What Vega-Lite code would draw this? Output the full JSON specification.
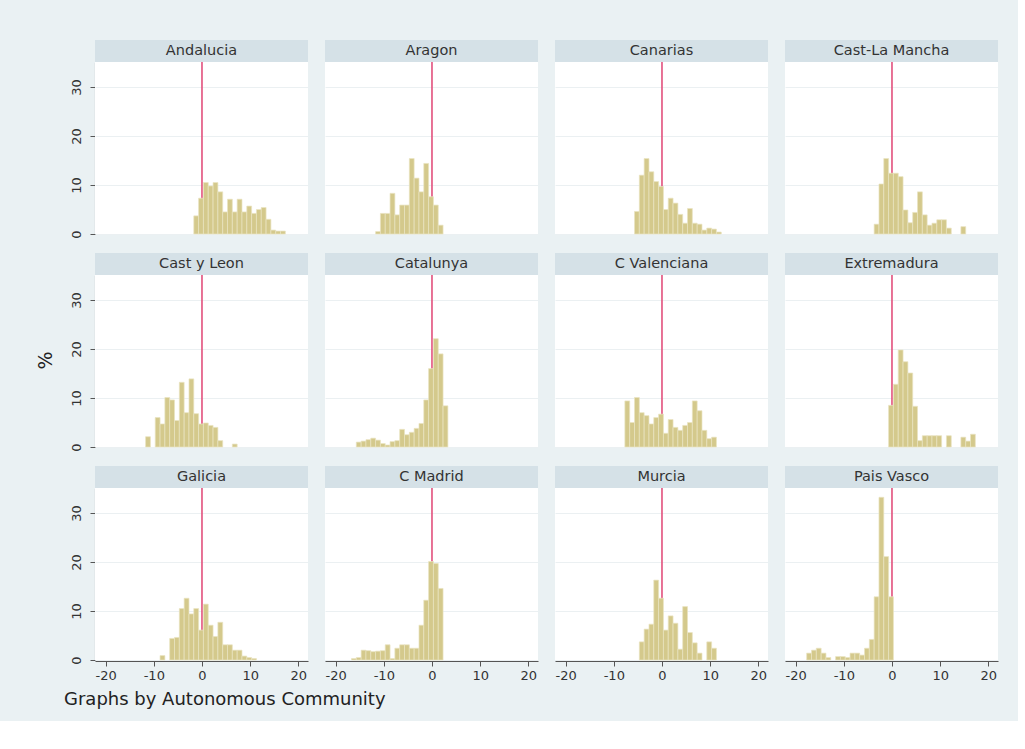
{
  "$schema": "https://vega.github.io/schema/vega-lite/v6.json",
  "background": "#EAF1F3",
  "padding": {"left": 37, "top": 38, "right": 20, "bottom": 12},
  "title": {"text": "Graphs by Autonomous Community", "orient": "bottom", "anchor": "start", "fontSize": 18, "fontWeight": "normal", "color": "#222", "font": "DejaVu Sans", "offset": 9, "dx": 27},
  "config": {
    "font": "DejaVu Sans",
    "view": {"fill": "white", "stroke": null},
    "axis": {"labelFont": "DejaVu Sans", "labelFontSize": 13, "labelColor": "#333", "domain": true, "domainColor": "#555", "domainWidth": 1.1, "tickColor": "#555", "tickSize": 5, "gridColor": "#EBF0F2"}
  },
  "data": {"values": [
    {"region":"Andalucia","x0":-1.7,"x1":-0.7,"pct":3.7},
    {"region":"Andalucia","x0":-0.7,"x1":0.3,"pct":7.3},
    {"region":"Andalucia","x0":0.3,"x1":1.3,"pct":10.5},
    {"region":"Andalucia","x0":1.3,"x1":2.3,"pct":9.8},
    {"region":"Andalucia","x0":2.3,"x1":3.3,"pct":10.5},
    {"region":"Andalucia","x0":3.3,"x1":4.3,"pct":8.6},
    {"region":"Andalucia","x0":4.3,"x1":5.3,"pct":4.5},
    {"region":"Andalucia","x0":5.3,"x1":6.3,"pct":7.1},
    {"region":"Andalucia","x0":6.3,"x1":7.3,"pct":4.5},
    {"region":"Andalucia","x0":7.3,"x1":8.3,"pct":7.1},
    {"region":"Andalucia","x0":8.3,"x1":9.3,"pct":4.5},
    {"region":"Andalucia","x0":9.3,"x1":10.3,"pct":5.7},
    {"region":"Andalucia","x0":10.3,"x1":11.3,"pct":4.2},
    {"region":"Andalucia","x0":11.3,"x1":12.3,"pct":5.0},
    {"region":"Andalucia","x0":12.3,"x1":13.3,"pct":5.4},
    {"region":"Andalucia","x0":13.3,"x1":14.3,"pct":3.0},
    {"region":"Andalucia","x0":14.3,"x1":15.3,"pct":0.8},
    {"region":"Andalucia","x0":15.3,"x1":16.3,"pct":0.6},
    {"region":"Andalucia","x0":16.3,"x1":17.3,"pct":0.6},
    {"region":"Aragon","x0":-11.7,"x1":-10.7,"pct":0.5},
    {"region":"Aragon","x0":-10.7,"x1":-9.7,"pct":4.2},
    {"region":"Aragon","x0":-9.7,"x1":-8.7,"pct":4.2},
    {"region":"Aragon","x0":-8.7,"x1":-7.7,"pct":8.3},
    {"region":"Aragon","x0":-7.7,"x1":-6.7,"pct":3.9},
    {"region":"Aragon","x0":-6.7,"x1":-5.7,"pct":5.9},
    {"region":"Aragon","x0":-5.7,"x1":-4.7,"pct":5.9},
    {"region":"Aragon","x0":-4.7,"x1":-3.7,"pct":15.4},
    {"region":"Aragon","x0":-3.7,"x1":-2.7,"pct":11.4},
    {"region":"Aragon","x0":-2.7,"x1":-1.7,"pct":8.6},
    {"region":"Aragon","x0":-1.7,"x1":-0.7,"pct":14.4},
    {"region":"Aragon","x0":-0.7,"x1":0.3,"pct":7.6},
    {"region":"Aragon","x0":0.3,"x1":1.3,"pct":5.9},
    {"region":"Aragon","x0":1.3,"x1":2.3,"pct":1.8},
    {"region":"Canarias","x0":-5.7,"x1":-4.7,"pct":4.6},
    {"region":"Canarias","x0":-4.7,"x1":-3.7,"pct":12.0},
    {"region":"Canarias","x0":-3.7,"x1":-2.7,"pct":15.4},
    {"region":"Canarias","x0":-2.7,"x1":-1.7,"pct":12.7},
    {"region":"Canarias","x0":-1.7,"x1":-0.7,"pct":10.7},
    {"region":"Canarias","x0":-0.7,"x1":0.3,"pct":9.7},
    {"region":"Canarias","x0":0.3,"x1":1.3,"pct":5.0},
    {"region":"Canarias","x0":1.3,"x1":2.3,"pct":7.3},
    {"region":"Canarias","x0":2.3,"x1":3.3,"pct":6.3},
    {"region":"Canarias","x0":3.3,"x1":4.3,"pct":4.0},
    {"region":"Canarias","x0":4.3,"x1":5.3,"pct":2.2},
    {"region":"Canarias","x0":5.3,"x1":6.3,"pct":5.2},
    {"region":"Canarias","x0":6.3,"x1":7.3,"pct":2.2},
    {"region":"Canarias","x0":7.3,"x1":8.3,"pct":2.0},
    {"region":"Canarias","x0":8.3,"x1":9.3,"pct":0.8},
    {"region":"Canarias","x0":9.3,"x1":10.3,"pct":1.2},
    {"region":"Canarias","x0":10.3,"x1":11.3,"pct":1.0},
    {"region":"Canarias","x0":11.3,"x1":12.3,"pct":0.4},
    {"region":"Cast-La Mancha","x0":-3.7,"x1":-2.7,"pct":2.0},
    {"region":"Cast-La Mancha","x0":-2.7,"x1":-1.7,"pct":10.2},
    {"region":"Cast-La Mancha","x0":-1.7,"x1":-0.7,"pct":15.4},
    {"region":"Cast-La Mancha","x0":-0.7,"x1":0.3,"pct":12.4},
    {"region":"Cast-La Mancha","x0":0.3,"x1":1.3,"pct":12.4},
    {"region":"Cast-La Mancha","x0":1.3,"x1":2.3,"pct":11.7},
    {"region":"Cast-La Mancha","x0":2.3,"x1":3.3,"pct":4.9},
    {"region":"Cast-La Mancha","x0":3.3,"x1":4.3,"pct":2.3},
    {"region":"Cast-La Mancha","x0":4.3,"x1":5.3,"pct":4.4},
    {"region":"Cast-La Mancha","x0":5.3,"x1":6.3,"pct":8.6},
    {"region":"Cast-La Mancha","x0":6.3,"x1":7.3,"pct":3.9},
    {"region":"Cast-La Mancha","x0":7.3,"x1":8.3,"pct":1.8},
    {"region":"Cast-La Mancha","x0":8.3,"x1":9.3,"pct":2.2},
    {"region":"Cast-La Mancha","x0":9.3,"x1":10.3,"pct":2.9},
    {"region":"Cast-La Mancha","x0":10.3,"x1":11.3,"pct":2.9},
    {"region":"Cast-La Mancha","x0":11.3,"x1":12.3,"pct":1.2},
    {"region":"Cast-La Mancha","x0":14.3,"x1":15.3,"pct":1.5},
    {"region":"Cast y Leon","x0":-11.7,"x1":-10.7,"pct":2.1},
    {"region":"Cast y Leon","x0":-9.7,"x1":-8.7,"pct":6.0},
    {"region":"Cast y Leon","x0":-8.7,"x1":-7.7,"pct":4.7},
    {"region":"Cast y Leon","x0":-7.7,"x1":-6.7,"pct":10.1},
    {"region":"Cast y Leon","x0":-6.7,"x1":-5.7,"pct":9.6},
    {"region":"Cast y Leon","x0":-5.7,"x1":-4.7,"pct":5.4},
    {"region":"Cast y Leon","x0":-4.7,"x1":-3.7,"pct":13.2},
    {"region":"Cast y Leon","x0":-3.7,"x1":-2.7,"pct":7.0},
    {"region":"Cast y Leon","x0":-2.7,"x1":-1.7,"pct":13.9},
    {"region":"Cast y Leon","x0":-1.7,"x1":-0.7,"pct":6.8},
    {"region":"Cast y Leon","x0":-0.7,"x1":0.3,"pct":4.7},
    {"region":"Cast y Leon","x0":0.3,"x1":1.3,"pct":4.9},
    {"region":"Cast y Leon","x0":1.3,"x1":2.3,"pct":4.4},
    {"region":"Cast y Leon","x0":2.3,"x1":3.3,"pct":4.0},
    {"region":"Cast y Leon","x0":3.3,"x1":4.3,"pct":1.3},
    {"region":"Cast y Leon","x0":6.3,"x1":7.3,"pct":0.6},
    {"region":"Catalunya","x0":-15.7,"x1":-14.7,"pct":1.0},
    {"region":"Catalunya","x0":-14.7,"x1":-13.7,"pct":1.2},
    {"region":"Catalunya","x0":-13.7,"x1":-12.7,"pct":1.5},
    {"region":"Catalunya","x0":-12.7,"x1":-11.7,"pct":1.8},
    {"region":"Catalunya","x0":-11.7,"x1":-10.7,"pct":1.4},
    {"region":"Catalunya","x0":-10.7,"x1":-9.7,"pct":0.7},
    {"region":"Catalunya","x0":-9.7,"x1":-8.7,"pct":0.4},
    {"region":"Catalunya","x0":-8.7,"x1":-7.7,"pct":1.1},
    {"region":"Catalunya","x0":-7.7,"x1":-6.7,"pct":1.3},
    {"region":"Catalunya","x0":-6.7,"x1":-5.7,"pct":3.6},
    {"region":"Catalunya","x0":-5.7,"x1":-4.7,"pct":2.5},
    {"region":"Catalunya","x0":-4.7,"x1":-3.7,"pct":3.0},
    {"region":"Catalunya","x0":-3.7,"x1":-2.7,"pct":3.8},
    {"region":"Catalunya","x0":-2.7,"x1":-1.7,"pct":4.8},
    {"region":"Catalunya","x0":-1.7,"x1":-0.7,"pct":9.6},
    {"region":"Catalunya","x0":-0.7,"x1":0.3,"pct":16.0},
    {"region":"Catalunya","x0":0.3,"x1":1.3,"pct":22.1},
    {"region":"Catalunya","x0":1.3,"x1":2.3,"pct":19.0},
    {"region":"Catalunya","x0":2.3,"x1":3.3,"pct":8.4},
    {"region":"C Valenciana","x0":-7.7,"x1":-6.7,"pct":9.4},
    {"region":"C Valenciana","x0":-6.7,"x1":-5.7,"pct":5.0},
    {"region":"C Valenciana","x0":-5.7,"x1":-4.7,"pct":10.1},
    {"region":"C Valenciana","x0":-4.7,"x1":-3.7,"pct":7.0},
    {"region":"C Valenciana","x0":-3.7,"x1":-2.7,"pct":6.4},
    {"region":"C Valenciana","x0":-2.7,"x1":-1.7,"pct":4.7},
    {"region":"C Valenciana","x0":-1.7,"x1":-0.7,"pct":6.0},
    {"region":"C Valenciana","x0":-0.7,"x1":0.3,"pct":6.7},
    {"region":"C Valenciana","x0":0.3,"x1":1.3,"pct":2.8},
    {"region":"C Valenciana","x0":1.3,"x1":2.3,"pct":5.6},
    {"region":"C Valenciana","x0":2.3,"x1":3.3,"pct":4.0},
    {"region":"C Valenciana","x0":3.3,"x1":4.3,"pct":3.4},
    {"region":"C Valenciana","x0":4.3,"x1":5.3,"pct":4.4},
    {"region":"C Valenciana","x0":5.3,"x1":6.3,"pct":5.0},
    {"region":"C Valenciana","x0":6.3,"x1":7.3,"pct":9.4},
    {"region":"C Valenciana","x0":7.3,"x1":8.3,"pct":7.4},
    {"region":"C Valenciana","x0":8.3,"x1":9.3,"pct":3.4},
    {"region":"C Valenciana","x0":9.3,"x1":10.3,"pct":1.7},
    {"region":"C Valenciana","x0":10.3,"x1":11.3,"pct":2.0},
    {"region":"Extremadura","x0":-0.7,"x1":0.3,"pct":8.5},
    {"region":"Extremadura","x0":0.3,"x1":1.3,"pct":12.8},
    {"region":"Extremadura","x0":1.3,"x1":2.3,"pct":19.8},
    {"region":"Extremadura","x0":2.3,"x1":3.3,"pct":17.4},
    {"region":"Extremadura","x0":3.3,"x1":4.3,"pct":15.1},
    {"region":"Extremadura","x0":4.3,"x1":5.3,"pct":8.3},
    {"region":"Extremadura","x0":5.3,"x1":6.3,"pct":1.3},
    {"region":"Extremadura","x0":6.3,"x1":7.3,"pct":2.3},
    {"region":"Extremadura","x0":7.3,"x1":8.3,"pct":2.3},
    {"region":"Extremadura","x0":8.3,"x1":9.3,"pct":2.3},
    {"region":"Extremadura","x0":9.3,"x1":10.3,"pct":2.3},
    {"region":"Extremadura","x0":11.3,"x1":12.3,"pct":2.3},
    {"region":"Extremadura","x0":14.3,"x1":15.3,"pct":2.0},
    {"region":"Extremadura","x0":15.3,"x1":16.3,"pct":1.2},
    {"region":"Extremadura","x0":16.3,"x1":17.3,"pct":2.6},
    {"region":"Galicia","x0":-8.7,"x1":-7.7,"pct":0.9},
    {"region":"Galicia","x0":-6.7,"x1":-5.7,"pct":4.4},
    {"region":"Galicia","x0":-5.7,"x1":-4.7,"pct":4.6},
    {"region":"Galicia","x0":-4.7,"x1":-3.7,"pct":10.5},
    {"region":"Galicia","x0":-3.7,"x1":-2.7,"pct":12.6},
    {"region":"Galicia","x0":-2.7,"x1":-1.7,"pct":9.4},
    {"region":"Galicia","x0":-1.7,"x1":-0.7,"pct":10.5},
    {"region":"Galicia","x0":-0.7,"x1":0.3,"pct":6.1},
    {"region":"Galicia","x0":0.3,"x1":1.3,"pct":11.4},
    {"region":"Galicia","x0":1.3,"x1":2.3,"pct":7.1},
    {"region":"Galicia","x0":2.3,"x1":3.3,"pct":4.8},
    {"region":"Galicia","x0":3.3,"x1":4.3,"pct":7.7},
    {"region":"Galicia","x0":4.3,"x1":5.3,"pct":3.1},
    {"region":"Galicia","x0":5.3,"x1":6.3,"pct":3.1},
    {"region":"Galicia","x0":6.3,"x1":7.3,"pct":2.0},
    {"region":"Galicia","x0":7.3,"x1":8.3,"pct":2.0},
    {"region":"Galicia","x0":8.3,"x1":9.3,"pct":0.8},
    {"region":"Galicia","x0":9.3,"x1":10.3,"pct":0.5},
    {"region":"Galicia","x0":10.3,"x1":11.3,"pct":0.3},
    {"region":"C Madrid","x0":-16.7,"x1":-15.7,"pct":0.3},
    {"region":"C Madrid","x0":-15.7,"x1":-14.7,"pct":0.5},
    {"region":"C Madrid","x0":-14.7,"x1":-13.7,"pct":2.0},
    {"region":"C Madrid","x0":-13.7,"x1":-12.7,"pct":1.9},
    {"region":"C Madrid","x0":-12.7,"x1":-11.7,"pct":1.7},
    {"region":"C Madrid","x0":-11.7,"x1":-10.7,"pct":1.8},
    {"region":"C Madrid","x0":-10.7,"x1":-9.7,"pct":1.9},
    {"region":"C Madrid","x0":-9.7,"x1":-8.7,"pct":3.1},
    {"region":"C Madrid","x0":-8.7,"x1":-7.7,"pct":0.3},
    {"region":"C Madrid","x0":-7.7,"x1":-6.7,"pct":2.4},
    {"region":"C Madrid","x0":-6.7,"x1":-5.7,"pct":3.1},
    {"region":"C Madrid","x0":-5.7,"x1":-4.7,"pct":3.1},
    {"region":"C Madrid","x0":-4.7,"x1":-3.7,"pct":2.4},
    {"region":"C Madrid","x0":-3.7,"x1":-2.7,"pct":2.4},
    {"region":"C Madrid","x0":-2.7,"x1":-1.7,"pct":7.1},
    {"region":"C Madrid","x0":-1.7,"x1":-0.7,"pct":12.2},
    {"region":"C Madrid","x0":-0.7,"x1":0.3,"pct":20.1},
    {"region":"C Madrid","x0":0.3,"x1":1.3,"pct":19.7},
    {"region":"C Madrid","x0":1.3,"x1":2.3,"pct":14.6},
    {"region":"Murcia","x0":-4.7,"x1":-3.7,"pct":3.7},
    {"region":"Murcia","x0":-3.7,"x1":-2.7,"pct":6.3},
    {"region":"Murcia","x0":-2.7,"x1":-1.7,"pct":7.3},
    {"region":"Murcia","x0":-1.7,"x1":-0.7,"pct":16.3},
    {"region":"Murcia","x0":-0.7,"x1":0.3,"pct":12.6},
    {"region":"Murcia","x0":0.3,"x1":1.3,"pct":6.1},
    {"region":"Murcia","x0":1.3,"x1":2.3,"pct":9.0},
    {"region":"Murcia","x0":2.3,"x1":3.3,"pct":7.5},
    {"region":"Murcia","x0":3.3,"x1":4.3,"pct":2.2},
    {"region":"Murcia","x0":4.3,"x1":5.3,"pct":10.9},
    {"region":"Murcia","x0":5.3,"x1":6.3,"pct":5.6},
    {"region":"Murcia","x0":6.3,"x1":7.3,"pct":3.5},
    {"region":"Murcia","x0":7.3,"x1":8.3,"pct":1.4},
    {"region":"Murcia","x0":9.3,"x1":10.3,"pct":3.7},
    {"region":"Murcia","x0":10.3,"x1":11.3,"pct":2.4},
    {"region":"Pais Vasco","x0":-17.7,"x1":-16.7,"pct":1.4},
    {"region":"Pais Vasco","x0":-16.7,"x1":-15.7,"pct":2.0},
    {"region":"Pais Vasco","x0":-15.7,"x1":-14.7,"pct":2.4},
    {"region":"Pais Vasco","x0":-14.7,"x1":-13.7,"pct":1.4},
    {"region":"Pais Vasco","x0":-13.7,"x1":-12.7,"pct":0.5},
    {"region":"Pais Vasco","x0":-11.7,"x1":-10.7,"pct":0.7},
    {"region":"Pais Vasco","x0":-10.7,"x1":-9.7,"pct":0.7},
    {"region":"Pais Vasco","x0":-9.7,"x1":-8.7,"pct":0.5},
    {"region":"Pais Vasco","x0":-8.7,"x1":-7.7,"pct":1.4},
    {"region":"Pais Vasco","x0":-7.7,"x1":-6.7,"pct":1.4},
    {"region":"Pais Vasco","x0":-6.7,"x1":-5.7,"pct":1.0},
    {"region":"Pais Vasco","x0":-5.7,"x1":-4.7,"pct":2.4},
    {"region":"Pais Vasco","x0":-4.7,"x1":-3.7,"pct":4.2},
    {"region":"Pais Vasco","x0":-3.7,"x1":-2.7,"pct":12.9},
    {"region":"Pais Vasco","x0":-2.7,"x1":-1.7,"pct":33.2},
    {"region":"Pais Vasco","x0":-1.7,"x1":-0.7,"pct":21.1},
    {"region":"Pais Vasco","x0":-0.7,"x1":0.3,"pct":12.9}
  ]},
  "vconcat": [
    {
      "title": {"text": "%", "orient": "left", "anchor": "middle", "fontSize": 19, "fontWeight": "normal", "color": "#222", "font": "DejaVu Sans", "offset": 14},
      "facet": {
        "field": "region", "type": "nominal",
        "sort": ["Andalucia","Aragon","Canarias","Cast-La Mancha","Cast y Leon","Catalunya","C Valenciana","Extremadura","Galicia","C Madrid","Murcia","Pais Vasco"],
        "header": {"title": null, "labels": false, "labelExpr": "''", "labelPadding": 0, "labelFontSize": 1}
      },
      "columns": 4,
      "spacing": {"row": 16, "column": 17},
      "spec": {
        "width": 213,
        "height": 172,
        "layer": [
          {
            "transform": [{"aggregate": [{"op": "count", "as": "n"}], "groupby": ["region"]}],
            "mark": {"type": "rect", "fill": "#D5E1E7"},
            "encoding": {
              "x": {"datum": -22.2, "type": "quantitative", "scale": {"domain": [-22.2, 22], "nice": false, "zero": false},
                    "axis": {"values": [-20, -10, 0, 10, 20], "title": null, "grid": false, "labelExpr": "'' + datum.value", "labelPadding": 3}},
              "x2": {"datum": 22},
              "y": {"datum": 35.1, "type": "quantitative", "scale": {"domain": [0, 35.1], "nice": false},
                    "axis": {"values": [0, 10, 20, 30], "title": null, "grid": true, "labelAngle": -90, "labelAlign": "center", "labelBaseline": "bottom", "labelPadding": 7}},
              "y2": {"datum": 39.6}
            }
          },
          {
            "transform": [{"aggregate": [{"op": "count", "as": "n"}], "groupby": ["region"]}],
            "mark": {"type": "rule", "color": "#E2507D", "strokeWidth": 1.6},
            "encoding": {"x": {"datum": 0, "type": "quantitative"}}
          },
          {
            "mark": {"type": "rect", "fill": "#D4C98C", "stroke": "#EAE4C2", "strokeWidth": 0.7},
            "encoding": {
              "x": {"field": "x0", "type": "quantitative"},
              "x2": {"field": "x1"},
              "y": {"field": "pct", "type": "quantitative"},
              "y2": {"datum": 0}
            }
          },
          {
            "transform": [{"aggregate": [{"op": "count", "as": "n"}], "groupby": ["region"]}],
            "mark": {"type": "text", "fontSize": 14.5, "color": "#333", "baseline": "middle", "align": "center"},
            "encoding": {
              "x": {"datum": -0.1, "type": "quantitative"},
              "y": {"datum": 37.35, "type": "quantitative"},
              "text": {"field": "region"}
            }
          }
        ]
      }
    }
  ]
}
